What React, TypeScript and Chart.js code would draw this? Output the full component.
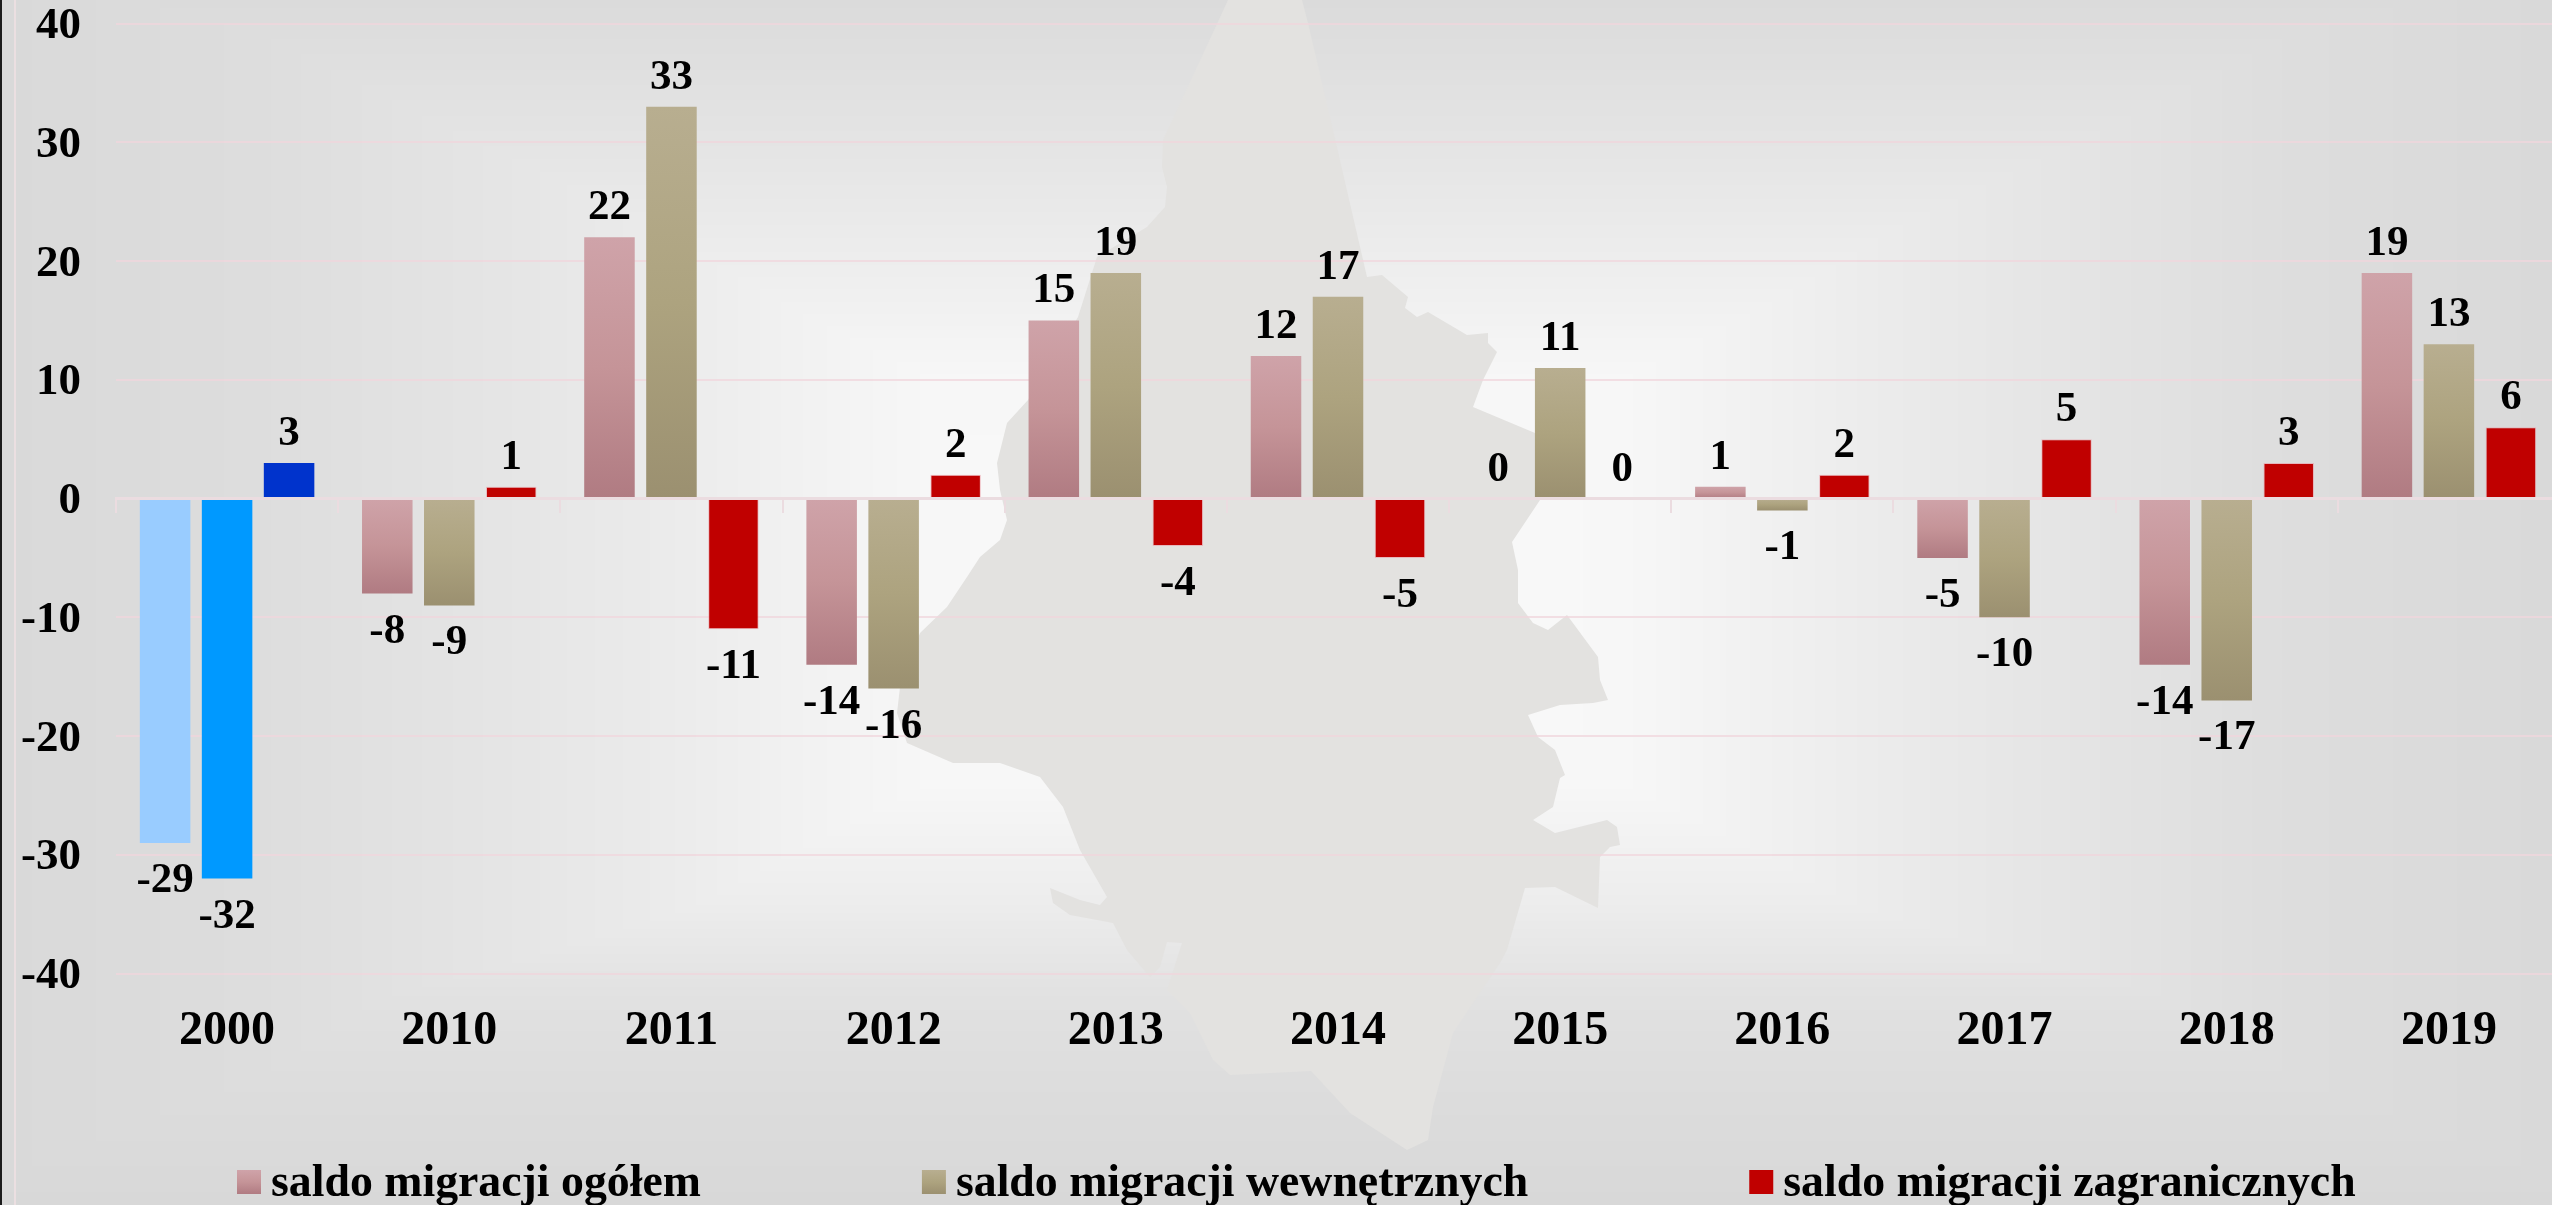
import React, { useEffect, useRef } from "react";
import { Chart, registerables } from "chart.js";

Chart.register(...registerables);

const categories = ["2000", "2010", "2011", "2012", "2013", "2014", "2015", "2016", "2017", "2018", "2019"];
const saldoOgolem = [-29, -8, 22, -14, 15, 12, 0, 1, -5, -14, 19];
const saldoWewnetrzne = [-32, -9, 33, -16, 19, 17, 11, -1, -10, -17, 13];
const saldoZagraniczne = [3, 1, -11, 2, -4, -5, 0, 2, 5, 3, 6];
const seriesLabels = ["saldo migracji ogółem", "saldo migracji wewnętrznych", "saldo migracji zagranicznych"];
const yTicks = [40, 30, 20, 10, 0, -10, -20, -30, -40];

const FONT = '"Liberation Serif"';
const PINK = ["#cfa3a9", "#c59498", "#b07b82"];
const KHAKI = ["#b8ae90", "#ada37f", "#9b9070"];
const RED = ["#c00000", "#c00000", "#c00000"];
const SERIES_COLORS = [PINK, KHAKI, RED];
const FIRST_GROUP_COLORS = ["#99ccff", "#0099ff", "#0033cc"];
const GRID = "rgba(240,214,220,0.75)";
const AXIS = "#ebdce0";

// Decorative watermark behind the plot (outline of the region).
const silhouette: [number, number][] = [
  [1228, 0], [1217, 24], [1163, 140], [1162, 167], [1167, 187], [1165, 207], [1147, 227], [1097, 257], [1078, 317],
  [1028, 400], [1007, 423], [997, 463], [1000, 490], [1007, 520], [1000, 540], [980, 557], [967, 577], [947, 607],
  [920, 633], [900, 687], [897, 713], [907, 743], [953, 763], [1000, 763], [1040, 777], [1063, 807], [1080, 850],
  [1107, 897], [1100, 905], [1080, 900], [1050, 888], [1053, 903], [1070, 915], [1113, 923], [1127, 950], [1150, 977],
  [1160, 967], [1167, 942], [1182, 943], [1167, 990], [1190, 1013], [1213, 1060], [1230, 1075], [1311, 1071],
  [1350, 1113], [1407, 1150], [1428, 1140], [1433, 1107], [1443, 1070], [1453, 1033], [1500, 963], [1507, 950],
  [1525, 888], [1555, 887], [1598, 908], [1600, 857], [1610, 847], [1620, 845], [1617, 827], [1607, 820], [1555, 833],
  [1533, 820], [1553, 807], [1560, 778], [1565, 775], [1555, 750], [1538, 737], [1528, 715], [1560, 705], [1593, 703],
  [1608, 700], [1600, 680], [1598, 657], [1567, 615], [1548, 630], [1533, 623], [1518, 603], [1518, 570], [1512, 542],
  [1540, 500], [1545, 470], [1535, 433], [1473, 407], [1483, 380], [1497, 352], [1488, 343], [1488, 333], [1467, 335],
  [1428, 312], [1417, 317], [1405, 308], [1408, 297], [1382, 275], [1367, 277], [1333, 130], [1308, 23], [1302, 0],
];

const W = 2552;
const H = 1205;
const CX = 1276;
const CY = 602;

const xShade: [number, number][] = [[0, 249], [0.15, 249], [0.27, 247], [0.38, 241], [0.48, 235], [0.61, 229], [0.8, 221], [1, 217]];
const topShade: [number, number][] = [[0, 249], [0.37, 247], [0.55, 238], [0.77, 228], [1, 219]];
const bottomShade: [number, number][] = [[0, 249], [0.3, 247], [0.495, 237], [0.66, 225], [0.83, 220], [1, 216]];

function shadeAt(stops: [number, number][], t: number) {
  for (let i = 1; i < stops.length; i++) {
    if (t <= stops[i][0]) {
      const [t0, v0] = stops[i - 1];
      const [t1, v1] = stops[i];
      return v0 + ((t - t0) / (t1 - t0)) * (v1 - v0);
    }
  }
  return stops[stops.length - 1][1];
}

let backdropImage: HTMLCanvasElement | null = null;
function getBackdrop() {
  if (backdropImage) return backdropImage;
  const off = document.createElement("canvas");
  off.width = W;
  off.height = H;
  const c = off.getContext("2d") as CanvasRenderingContext2D;
  const img = c.createImageData(W, H);
  const xs = new Float32Array(W);
  for (let x = 0; x < W; x++) xs[x] = shadeAt(xShade, Math.min(1, Math.abs(x - CX) / CX));
  for (let y = 0; y < H; y++) {
    const t = Math.min(1, Math.abs(y - CY) / CY);
    const vy = shadeAt(y < CY ? topShade : bottomShade, t);
    for (let x = 0; x < W; x++) {
      const v = Math.min(vy, xs[x]);
      const k = (y * W + x) * 4;
      img.data[k] = v;
      img.data[k + 1] = v;
      img.data[k + 2] = v;
      img.data[k + 3] = 255;
    }
  }
  c.putImageData(img, 0, 0);
  backdropImage = off;
  return off;
}

const backdrop = {
  id: "backdrop",
  beforeDraw(chart: any) {
    // Nudge the y tick labels down to sit on their grid lines as in the reference.
    const items: any = chart.scales.y.getLabelItems();
    if (!items._nudged) {
      items.forEach((it: any) => (it.textOffset += 3));
      items._nudged = true;
    }
    const c = chart.ctx as CanvasRenderingContext2D;
    c.save();
    c.drawImage(getBackdrop(), 0, 0);
    c.fillStyle = "#e3e2e0";
    c.beginPath();
    silhouette.forEach(([x, y], i) => (i ? c.lineTo(x, y) : c.moveTo(x, y)));
    c.closePath();
    c.fill();
    c.fillStyle = "#ebdfe1";
    c.fillRect(14, 0, 2, H);
    c.fillStyle = "#1c1c1c";
    c.fillRect(0, 0, 2, H);
    c.restore();
  },
};

const valueLabels = {
  id: "valueLabels",
  afterDatasetsDraw(chart: any) {
    const c = chart.ctx as CanvasRenderingContext2D;
    c.save();
    c.font = `bold 43px ${FONT}`;
    c.fillStyle = "#000";
    c.textAlign = "center";
    c.textBaseline = "middle";
    chart.data.datasets.forEach((ds: any, di: number) => {
      chart.getDatasetMeta(di).data.forEach((el: any, i: number) => {
        const v = ds.data[i];
        c.fillText(String(v), el.x, v < 0 ? el.y + 38 : el.y - 29);
      });
    });
    c.restore();
  },
};

const bottomLegend = {
  id: "bottomLegend",
  afterDraw(chart: any) {
    const c = chart.ctx as CanvasRenderingContext2D;
    c.save();
    c.font = `bold 45.8px ${FONT}`;
    c.textBaseline = "middle";
    let x = 237;
    chart.data.datasets.forEach((ds: any, di: number) => {
      const stops = SERIES_COLORS[di];
      const g = c.createLinearGradient(0, 1170, 0, 1194);
      stops.forEach((s, i) => g.addColorStop(i / 2, s));
      c.fillStyle = g;
      c.fillRect(x, 1170, 24, 24);
      c.fillStyle = "#000";
      c.fillText(ds.label, x + 34, 1184);
      x += 34 + c.measureText(ds.label).width + 221;
    });
    c.restore();
  },
};

function barFill(seriesIndex: number) {
  return (ctx: any) => {
    if (ctx.type !== "data") return SERIES_COLORS[seriesIndex][0];
    if (ctx.dataIndex === 0) return FIRST_GROUP_COLORS[seriesIndex];
    if (seriesIndex === 2) return RED[0];
    const y = ctx.chart.scales?.y;
    if (!y) return SERIES_COLORS[seriesIndex][0];
    const a = y.getPixelForValue(0);
    const b = y.getPixelForValue(ctx.raw);
    const g = ctx.chart.ctx.createLinearGradient(0, Math.min(a, b), 0, Math.max(a, b) || 1);
    SERIES_COLORS[seriesIndex].forEach((s, i) => g.addColorStop(i / 2, s));
    return g;
  };
}

export default function App() {
  const ref = useRef<HTMLCanvasElement>(null);
  useEffect(() => {
    if (!ref.current) return;
    const chart = new Chart(ref.current, {
      type: "bar",
      data: {
        labels: categories,
        datasets: [saldoOgolem, saldoWewnetrzne, saldoZagraniczne].map((data, i) => ({
          label: seriesLabels[i],
          data,
          backgroundColor: barFill(i),
          borderColor: "rgba(235,150,160,0.55)",
          borderWidth: (ctx: any) => (i === 2 && ctx.dataIndex > 0 ? 1 : 0),
          barPercentage: 0.815,
          categoryPercentage: 0.837,
        })),
      },
      options: {
        responsive: false,
        animation: false,
        layout: { padding: { top: 23.5, bottom: 0, left: 0, right: 0 } },
        plugins: { legend: { display: false }, tooltip: { enabled: false }, title: { display: false } },
        scales: {
          x: {
            afterFit: (s: any) => {
              s.height = 231.5;
            },
            grid: { display: false, drawTicks: false },
            border: { display: false },
            ticks: {
              padding: 29,
              maxRotation: 0,
              autoSkip: false,
              color: "#000",
              font: { family: FONT, weight: "bold", size: 48 },
            },
          },
          zeroAxis: {
            type: "category",
            axis: "x",
            labels: categories,
            offset: true,
            position: { y: 0 } as any,
            grid: { drawOnChartArea: false, drawTicks: true, tickLength: 13, color: AXIS, lineWidth: 2, offset: true },
            border: { display: true, color: AXIS, width: 3, z: 1 },
            ticks: { display: false, autoSkip: false, maxRotation: 0 },
            afterFit: (s: any) => {
              s.paddingTop = 0;
              s.paddingBottom = 0;
              s.paddingLeft = 0;
              s.paddingRight = 0;
            },
          } as any,
          y: {
            min: -40,
            max: 40,
            afterFit: (s: any) => {
              s.width = 116;
              s.paddingTop = 0;
              s.paddingBottom = 0;
            },
            afterBuildTicks: (s: any) => {
              s.ticks = yTicks.map((value) => ({ value }));
            },
            grid: { color: GRID, lineWidth: 2, drawTicks: false },
            border: { display: false },
            ticks: {
              padding: 35,
              color: "#000",
              font: { family: FONT, weight: "bold", size: 45 },
            },
          },
        },
      },
      plugins: [backdrop, valueLabels, bottomLegend],
    });
    return () => chart.destroy();
  }, []);
  return (
    <div style={{ position: "fixed", left: 0, top: 0, width: W, height: H, overflow: "hidden" }}>
      <canvas ref={ref} width={2560} height={H} style={{ display: "block" }} />
    </div>
  );
}
